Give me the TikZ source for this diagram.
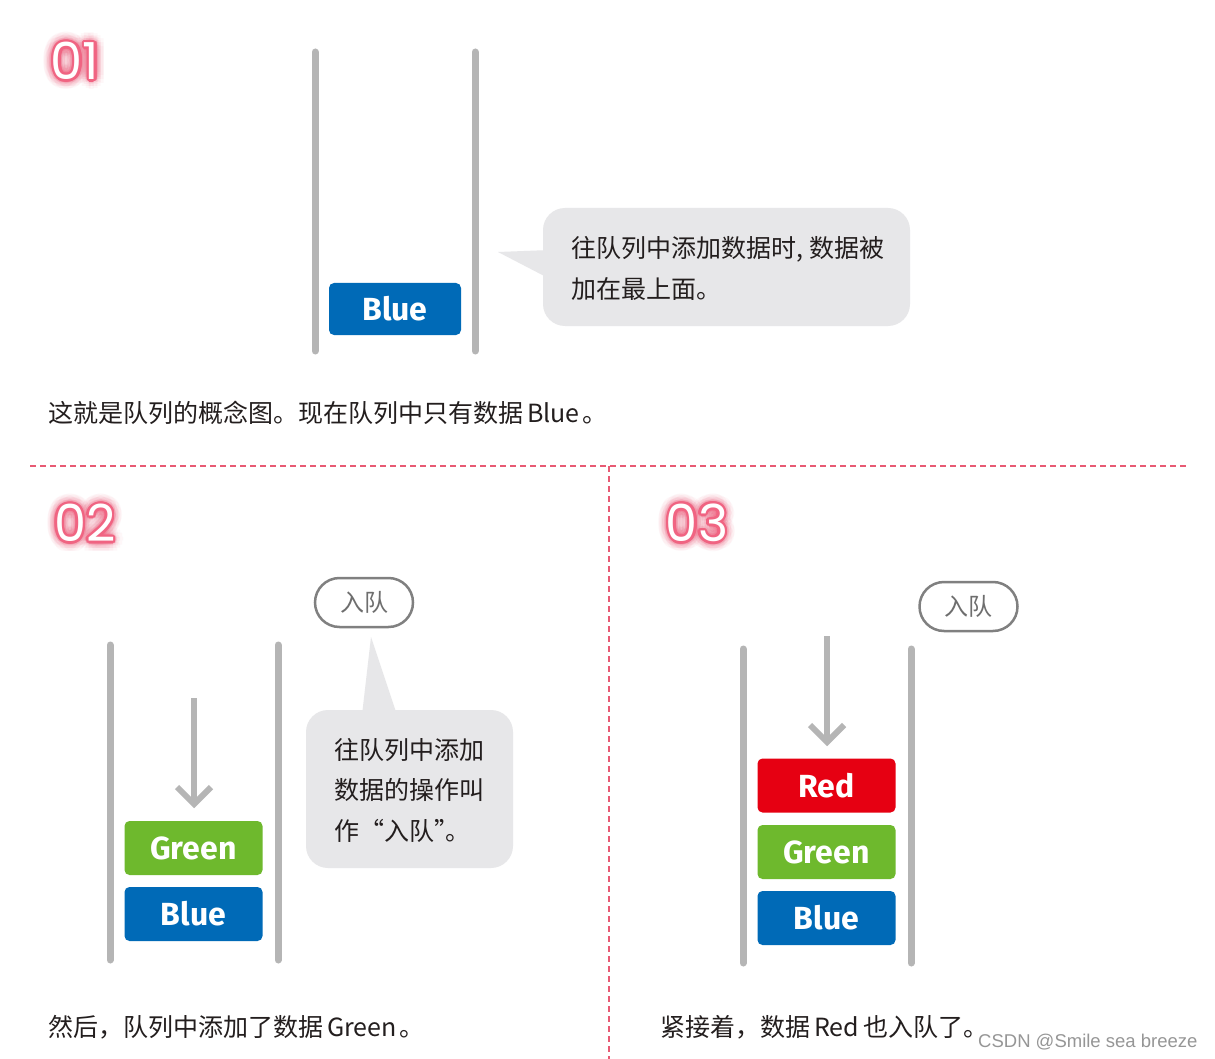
\documentclass[tikz,border=0pt]{standalone}
\usepackage{fontspec}
\setmainfont{Noto Sans CJK SC}
\newfontfamily\numfont{Poppins}
\newfontfamily\blkfont{Fira Sans}
\newfontfamily\wmfont{Liberation Sans}
\usetikzlibrary{calc}
\definecolor{bargray}{RGB}{181,181,181}
\definecolor{qblue}{RGB}{0,106,183}
\definecolor{qgreen}{RGB}{110,185,45}
\definecolor{qred}{RGB}{230,0,18}
\definecolor{cgray}{RGB}{231,231,233}
\definecolor{dashpink}{RGB}{232,90,115}
\definecolor{lblpink}{RGB}{240,100,130}
\definecolor{pillgray}{RGB}{128,128,128}
\definecolor{pilltext}{RGB}{110,110,110}
\definecolor{txt}{RGB}{35,30,30}
\definecolor{wmgray}{RGB}{150,150,150}
\newcommand\glowlabel[3]{%
  \foreach \rr/\oo in {10/0.05,7/0.07,4.5/0.10}{%
    \foreach \aa in {0,22.5,...,337.5}{%
      \node[numstyle,text=lblpink,opacity=\oo] at ($(#2)+(\aa:\rr)$) {#3};}}%
  \foreach \aa in {0,22.5,...,337.5}{%
    \node[numstyle,text=lblpink] at ($(#2)+(\aa:2.4)$) {#3};}%
  \node[numstyle,text=white] (#1) at (#2) {#3};%
}
\begin{document}
\begin{tikzpicture}[x=1pt,y=-1pt,
  numstyle/.style={inner sep=0pt,font=\numfont\fontsize{51}{51}\selectfont},
  bar/.style={line width=7pt,line cap=round,draw=bargray},
  qarrow/.style={line width=6pt,draw=bargray},
  block/.style={inner sep=0pt,minimum width=138pt,minimum height=54pt,rounded corners=5pt,text=white,font=\blkfont\bfseries\fontsize{32}{32}\selectfont},
  cbox/.style={fill=cgray,rounded corners=22pt,inner sep=0pt},
  ctext/.style={inner sep=0pt,anchor=north west,align=left,text=txt,font=\fontsize{25}{41}\selectfont},
  caption/.style={inner sep=0pt,anchor=west,text=txt,font=\fontsize{25}{30}\selectfont},
  pill/.style={draw=pillgray,line width=2.5pt,fill=white,minimum width=98pt,minimum height=49pt,rounded corners=24.5pt,inner sep=0pt,text=pilltext,font=\fontsize{24}{24}\selectfont},
  sep/.style={draw=dashpink,line width=1.5pt,dash pattern=on 6pt off 4pt}]
\useasboundingbox (0,0) rectangle (1215,1059);
\fill[white] (0,0) rectangle (1215,1059);

% separators
\coordinate (h1) at (30,466);
\coordinate (h2) at (1188,466);
\coordinate (v1) at (609,466);
\coordinate (v2) at (609,1059);
\draw[sep] (h1) -- (h2);
\draw[sep] (v1) -- (v2);

% ---------- panel 01 ----------
\coordinate (l1) at (75,61);
\glowlabel{n1}{l1}{01}
\coordinate (a1t) at (315,52);
\coordinate (a1b) at (315,351);
\coordinate (b1t) at (475,52);
\coordinate (b1b) at (475,351);
\draw[bar] (a1t) -- (a1b);
\draw[bar] (b1t) -- (b1b);
\node[block,fill=qblue,minimum width=132pt,minimum height=52pt] (blue1) at (395,309) {Blue};
\node[cbox,minimum width=367pt,minimum height=118pt] (c1) at (726.5,267) {};
\coordinate (c1tip) at (498,252);
\coordinate (c1a) at (550,250);
\coordinate (c1b) at (550,279);
\fill[cgray] (c1tip) -- (c1a) -- (c1b) -- cycle;
\node[ctext] (c1t) at (571,236) {往队列中添加数据时,\hspace{6pt}数据被\\加在最上面。};
\node[caption] (cap1) at (48,413) {这就是队列的概念图。现在队列中只有数据\hspace{4pt}Blue\hspace{3pt}。};

% ---------- panel 02 ----------
\coordinate (l2) at (85,523);
\glowlabel{n2}{l2}{02}
\coordinate (a2t) at (110,645);
\coordinate (a2b) at (110,960);
\coordinate (b2t) at (278,645);
\coordinate (b2b) at (278,960);
\draw[bar] (a2t) -- (a2b);
\draw[bar] (b2t) -- (b2b);
\coordinate (ar2s) at (194,698);
\coordinate (ar2e) at (194,800);
\coordinate (ch2l) at (177,787);
\coordinate (ch2m) at (194,804);
\coordinate (ch2r) at (211,787);
\draw[qarrow] (ar2s) -- (ar2e);
\draw[qarrow,miter limit=4] (ch2l) -- (ch2m) -- (ch2r);
\node[block,fill=qgreen] (green2) at (193.5,848) {Green};
\node[block,fill=qblue] (blue2) at (193.5,914) {Blue};
\node[pill] (p2) at (364,602.5) {入队};
\node[cbox,minimum width=207pt,minimum height=158pt] (c2) at (409.5,789) {};
\coordinate (c2tip) at (371,637);
\coordinate (c2a) at (362,715);
\coordinate (c2b) at (397,715);
\fill[cgray] (c2tip) -- (c2a) -- (c2b) -- cycle;
\node[ctext,font=\fontsize{25}{40.5}\selectfont] (c2t) at (334,738) {往队列中添加\\数据的操作叫\\作“入队”\hspace{-0.55em}。};
\node[caption] (cap2) at (48,1027) {然后，队列中添加了数据\hspace{4pt}Green\hspace{3pt}。};

% ---------- panel 03 ----------
\coordinate (l3) at (697,523);
\glowlabel{n3}{l3}{03}
\coordinate (a3t) at (743,649);
\coordinate (a3b) at (743,963);
\coordinate (b3t) at (911,649);
\coordinate (b3b) at (911,963);
\draw[bar] (a3t) -- (a3b);
\draw[bar] (b3t) -- (b3b);
\coordinate (ar3s) at (827,636);
\coordinate (ar3e) at (827,738);
\coordinate (ch3l) at (810,725);
\coordinate (ch3m) at (827,742);
\coordinate (ch3r) at (844,725);
\draw[qarrow] (ar3s) -- (ar3e);
\draw[qarrow,miter limit=4] (ch3l) -- (ch3m) -- (ch3r);
\node[block,fill=qred] (red3) at (826.5,785.5) {Red};
\node[block,fill=qgreen] (green3) at (826.5,852) {Green};
\node[block,fill=qblue] (blue3) at (826.5,918) {Blue};
\node[pill] (p3) at (968.5,606.5) {入队};
\node[caption] (cap3) at (660,1027) {紧接着，数据\hspace{4pt}Red\hspace{4pt}也入队了。};
\node[inner sep=0pt,anchor=west,text=wmgray,font=\wmfont\fontsize{18.5}{20}\selectfont] (wm) at (978,1042) {CSDN @Smile sea breeze};
\end{tikzpicture}
\end{document}
